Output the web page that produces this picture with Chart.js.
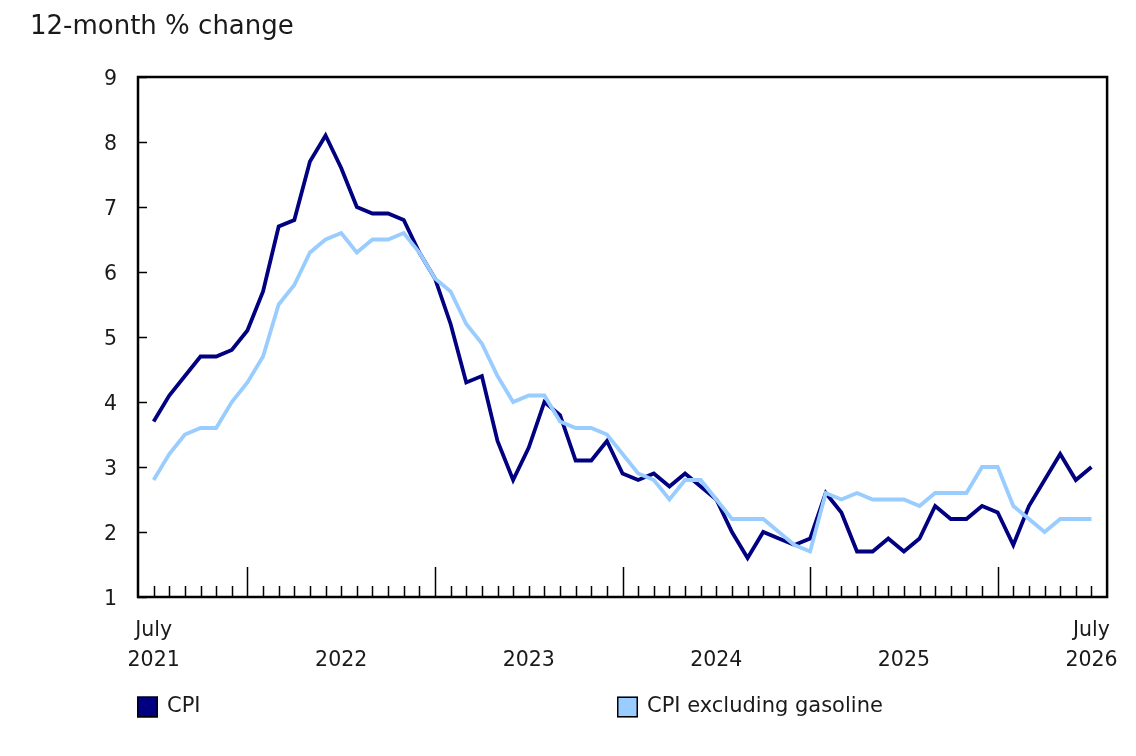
<!DOCTYPE html>
<html>
<head>
<meta charset="utf-8">
<script src="https://cdn.jsdelivr.net/npm/chart.js@4/dist/chart.umd.min.js"></script>
<style>
  html, body { margin: 0; padding: 0; background: #ffffff; }
  #wrap { width: 1136px; height: 756px; position: relative; }
</style>
</head>
<body>
<div id="wrap"><canvas id="c"></canvas></div>
<script>
// ---- Data ----
const months = [
  'Jul 2021','Aug 2021','Sep 2021','Oct 2021','Nov 2021','Dec 2021',
  'Jan 2022','Feb 2022','Mar 2022','Apr 2022','May 2022','Jun 2022','Jul 2022','Aug 2022','Sep 2022','Oct 2022','Nov 2022','Dec 2022',
  'Jan 2023','Feb 2023','Mar 2023','Apr 2023','May 2023','Jun 2023','Jul 2023','Aug 2023','Sep 2023','Oct 2023','Nov 2023','Dec 2023',
  'Jan 2024','Feb 2024','Mar 2024','Apr 2024','May 2024','Jun 2024','Jul 2024','Aug 2024','Sep 2024','Oct 2024','Nov 2024','Dec 2024',
  'Jan 2025','Feb 2025','Mar 2025','Apr 2025','May 2025','Jun 2025','Jul 2025','Aug 2025','Sep 2025','Oct 2025','Nov 2025','Dec 2025',
  'Jan 2026','Feb 2026','Mar 2026','Apr 2026','May 2026','Jun 2026','Jul 2026'
];
const cpi = [
  3.7,4.1,4.4,4.7,4.7,4.8,
  5.1,5.7,6.7,6.8,7.7,8.1,7.6,7.0,6.9,6.9,6.8,6.3,
  5.9,5.2,4.3,4.4,3.4,2.8,3.3,4.0,3.8,3.1,3.1,3.4,
  2.9,2.8,2.9,2.7,2.9,2.7,2.5,2.0,1.6,2.0,1.9,1.8,
  1.9,2.6,2.3,1.7,1.7,1.9,1.7,1.9,2.4,2.2,2.2,2.4,
  2.3,1.8,2.4,2.8,3.2,2.8,3.0
];
const cpiExGasoline = [
  2.8,3.2,3.5,3.6,3.6,4.0,
  4.3,4.7,5.5,5.8,6.3,6.5,6.6,6.3,6.5,6.5,6.6,6.3,
  5.9,5.7,5.2,4.9,4.4,4.0,4.1,4.1,3.7,3.6,3.6,3.5,
  3.2,2.9,2.8,2.5,2.8,2.8,2.5,2.2,2.2,2.2,2.0,1.8,
  1.7,2.6,2.5,2.6,2.5,2.5,2.5,2.4,2.6,2.6,2.6,3.0,
  3.0,2.4,2.2,2.0,2.2,2.2,2.2
];
const seriesNames = ['CPI', 'CPI excluding gasoline'];
const yTicks = [1,2,3,4,5,6,7,8,9];
const xTickLabels = { 'Jul 2021': ['July','2021'], 'Jul 2022': ['', '2022'], 'Jul 2023': ['', '2023'],
                      'Jul 2024': ['', '2024'], 'Jul 2025': ['', '2025'], 'Jul 2026': ['July','2026'] };
const titleText = '12-month % change';

// ---- Styles ----
const FONT = '"DejaVu Sans", Verdana, sans-serif';
const TEXT = '#1a1a1a';
const DARK = '#000080';
const LIGHT = '#99ccff';

const toPts = arr => arr.map((v, i) => ({ x: i, y: v }));
const labelledIdx = months.map((m, i) => (m in xTickLabels ? i : -1)).filter(i => i >= 0);

const framePlugin = {
  id: 'frame',
  afterDatasetsDraw(chart) {
    const { ctx, chartArea: a, scales } = chart;
    const xs = scales.x, ys = scales.y;
    ctx.save();
    ctx.strokeStyle = '#000';
    ctx.lineWidth = 1.5;
    months.forEach((m, i) => {
      const px = Math.round(xs.getPixelForValue(i)) + 0.5;
      const len = m.startsWith('Jan') ? 30 : 11;
      ctx.beginPath();
      ctx.moveTo(px, a.bottom);
      ctx.lineTo(px, a.bottom - len);
      ctx.stroke();
    });
    yTicks.forEach(v => {
      const py = Math.round(ys.getPixelForValue(v)) + 0.5;
      ctx.beginPath();
      ctx.moveTo(a.left, py);
      ctx.lineTo(a.left + 9, py);
      ctx.stroke();
    });
    ctx.lineWidth = 2.5;
    ctx.strokeRect(a.left, a.top, a.right - a.left, a.bottom - a.top);
    ctx.restore();
  },
  afterDraw(chart) {
    const { ctx, chartArea: a } = chart;
    const ds = chart.data.datasets;
    const order = [1, 0]; // CPI first, then CPI excluding gasoline
    const xs = [a.left - 1, a.left + 479];
    const cy = a.bottom + 110;
    ctx.save();
    ctx.font = '21px ' + FONT;
    ctx.textBaseline = 'middle';
    ctx.textAlign = 'left';
    order.forEach((di, k) => {
      const d = ds[di];
      const bx = xs[k];
      ctx.fillStyle = d.borderColor;
      ctx.fillRect(bx, cy - 10.5, 21, 21);
      ctx.lineWidth = 1.5;
      ctx.strokeStyle = '#000';
      ctx.strokeRect(bx + 0.75, cy - 9.75, 19.5, 19.5);
      ctx.fillStyle = TEXT;
      ctx.fillText(d.label, bx + 30, cy);
    });
    ctx.restore();
  }
};

new Chart(document.getElementById('c'), {
  type: 'line',
  data: {
    datasets: [
      { label: seriesNames[1], data: toPts(cpiExGasoline), borderColor: LIGHT, backgroundColor: LIGHT,
        borderWidth: 3.8, pointRadius: 0, tension: 0, order: 1 },
      { label: seriesNames[0], data: toPts(cpi), borderColor: DARK, backgroundColor: DARK,
        borderWidth: 3.8, pointRadius: 0, tension: 0, order: 2 }
    ]
  },
  options: {
    responsive: true,
    maintainAspectRatio: false,
    animation: false,
    layout: { padding: { top: 0, left: 30, right: 28, bottom: 69 } },
    plugins: {
      legend: { display: false },
      tooltip: { enabled: false },
      title: {
        display: true, text: titleText, align: 'start', color: TEXT,
        font: { family: FONT, size: 26, weight: 'normal', lineHeight: 1.2 },
        padding: { top: 12, bottom: 33.8 }
      }
    },
    scales: {
      x: {
        type: 'linear', min: -1, max: months.length,
        grid: { display: false, drawTicks: false },
        border: { display: false },
        afterBuildTicks: s => { s.ticks = labelledIdx.map(v => ({ value: v })); },
        afterFit: s => { s.height = 90; },
        ticks: {
          autoSkip: false, maxRotation: 0, minRotation: 0, padding: 18, color: TEXT,
          font: { family: FONT, size: 20.5, lineHeight: 1.5 },
          callback: v => xTickLabels[months[v]] || ''
        }
      },
      y: {
        min: 1, max: 9,
        grid: { display: false, drawTicks: false },
        border: { display: false },
        afterBuildTicks: s => { s.ticks = yTicks.map(v => ({ value: v })); },
        afterFit: s => { s.width = 108; },
        ticks: {
          padding: 21, color: TEXT, labelOffset: 3,
          font: { family: FONT, size: 20.5 },
          callback: v => String(v)
        }
      }
    }
  },
  plugins: [framePlugin]
});
</script>
</body>
</html>
